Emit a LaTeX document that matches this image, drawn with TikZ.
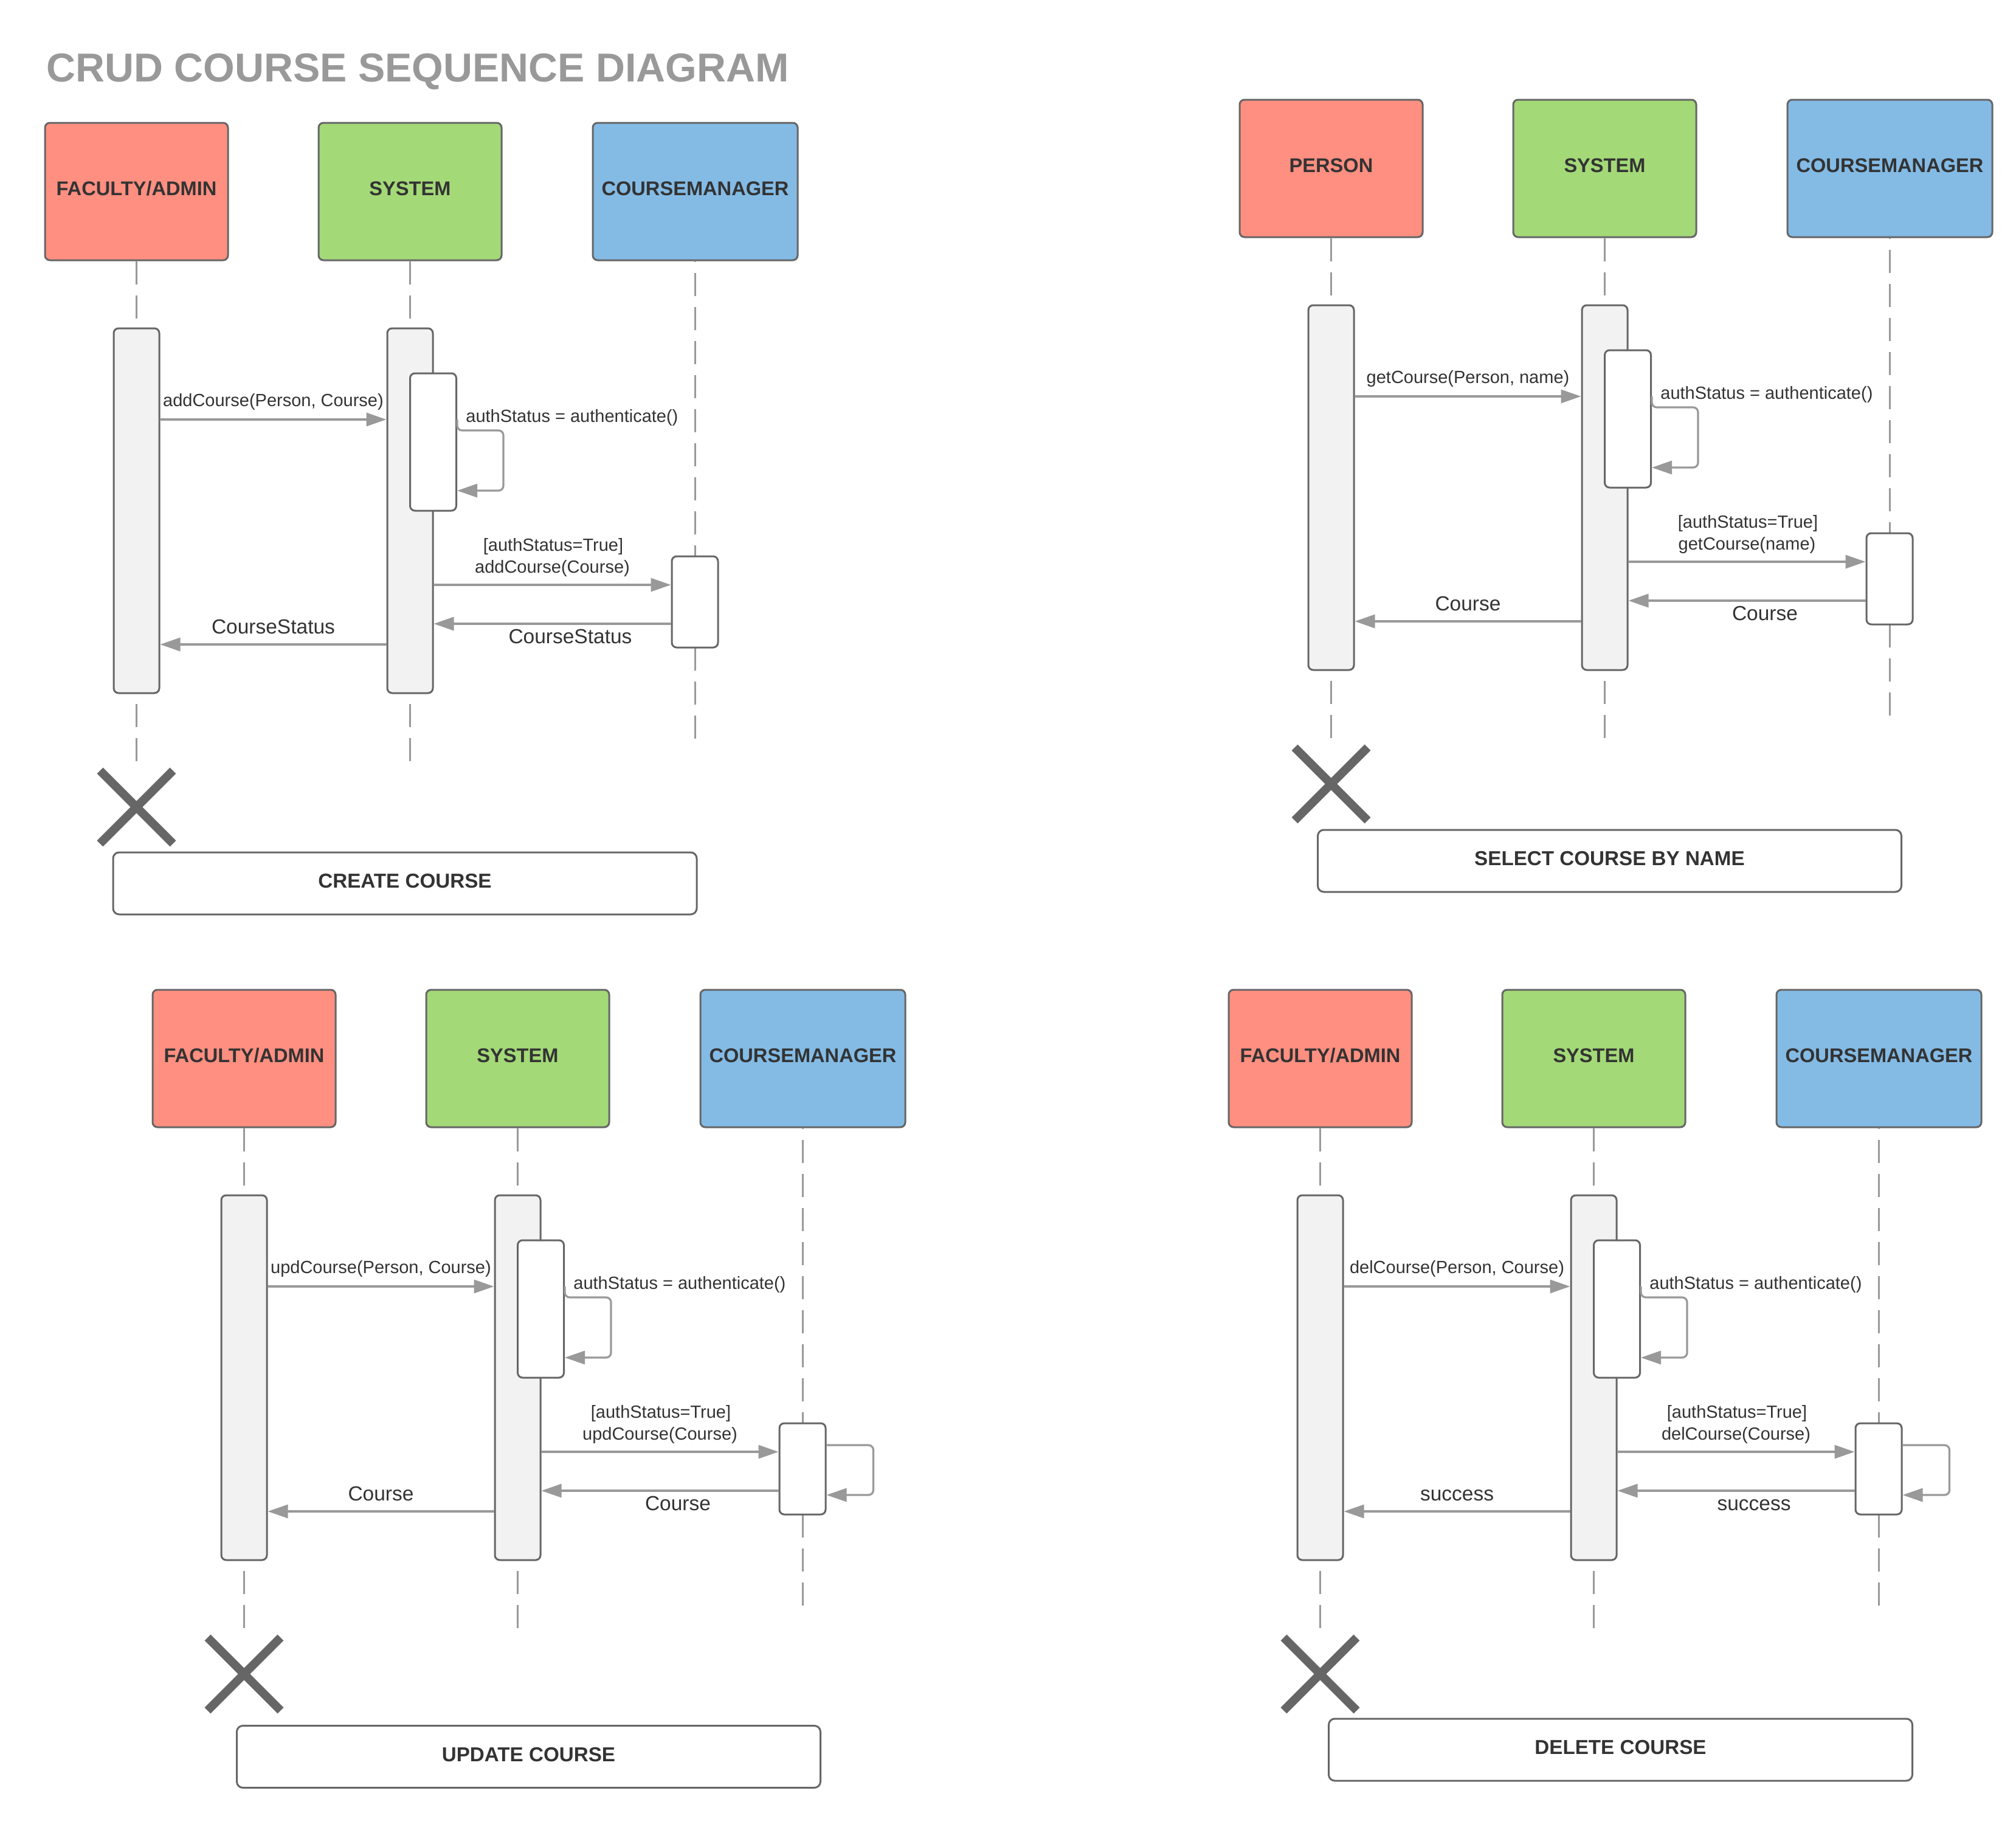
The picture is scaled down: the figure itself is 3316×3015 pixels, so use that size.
\documentclass[tikz,border=0pt]{standalone}
\usepackage{fontspec}
\setmainfont{Liberation Sans}
\usetikzlibrary{arrows.meta,shapes.misc,calc}
\definecolor{cRed}{HTML}{FF8F80}
\definecolor{cGreen}{HTML}{A3D977}
\definecolor{cBlue}{HTML}{83BBE5}
\definecolor{cBorder}{HTML}{666666}
\definecolor{cBar}{HTML}{F2F2F2}
\definecolor{cLine}{HTML}{999999}
\definecolor{cText}{HTML}{333333}
\definecolor{cTitle}{HTML}{999999}
\tikzset{
  actor/.style={draw=cBorder, line width=1.5pt, rounded corners=4pt, inner sep=0pt,
    minimum width=150.5pt, minimum height=113pt, text=cText,
    font=\fontsize{16.3pt}{19pt}\selectfont\bfseries, text height=11.7pt, text depth=5pt},
  bar/.style={draw=cBorder, line width=1.5pt, fill=cBar, rounded corners=4pt,
    minimum width=37.5pt, minimum height=300pt, inner sep=0pt},
  actbox/.style={draw=cBorder, line width=1.5pt, fill=white, rounded corners=4pt,
    minimum width=38pt, inner sep=0pt},
  lifeline/.style={draw=cLine, line width=1.6pt, dash pattern=on 19pt off 9pt},
  msg/.style={draw=cLine, line width=1.6pt, -{Triangle[length=16.5pt,width=11pt]}},
  msglbl/.style={anchor=base, inner sep=0pt, text=cText, font=\fontsize{14.5pt}{17pt}\selectfont},
  retlbl/.style={anchor=base, inner sep=0pt, text=cText, font=\fontsize{16.75pt}{19pt}\selectfont},
  xmark/.style={cross out, draw=cBorder, line width=7pt, minimum size=60pt, inner sep=0pt, outer sep=0pt},
  caption/.style={draw=cBorder, line width=1.5pt, fill=white, rounded corners=5pt, inner sep=0pt,
    minimum width=480pt, minimum height=51pt, text=cText,
    font=\fontsize{16.6pt}{19pt}\selectfont\bfseries, text height=11.9pt, text depth=4pt}
}
% #1 prefix, #2 dx, #3 dy, #4 first actor, #5 first message, #6 call to manager, #7 return text, #8 self loop at manager
\newcommand\seqpanel[8]{%
\begin{scope}[shift={(#2,#3)}, name prefix=#1-]
  \coordinate (ym1) at (0,690);
  \coordinate (ym2) at (0,962);
  \coordinate (yr1) at (0,1026);
  \coordinate (yr2) at (0,1060);
  \coordinate (yl1) at (0,807);
  \coordinate (yc1) at (0,951);
  \coordinate (yc2) at (0,1033);
  \coordinate (yendA) at (0,1253);
  \coordinate (yendC) at (0,1215);
  \node[actor, fill=cRed] (A) at (224.5,315) {#4};
  \node[actor, fill=cGreen] (S) at (674.5,315) {SYSTEM};
  \node[actor, fill=cBlue, minimum width=168.5pt] (C) at (1143.5,315) {COURSEMANAGER};
  \draw[lifeline] (A.south) -- (A.south |- yendA);
  \draw[lifeline] (S.south) -- (S.south |- yendA);
  \draw[lifeline] (C.south |- yendC) -- (C.south);
  \node[bar] (barA) at (224.5,840) {};
  \node[bar] (barS) at (674.5,840) {};
  \node[actbox, minimum height=113pt] (auth) at (712.5,727) {};
  \node[actbox, minimum height=75pt] (cm) at (1143,990) {};
  \draw[msg] (barA.east |- ym1) -- node[msglbl, yshift=11pt] (m1lbl) {#5} (barS.west |- ym1);
  \draw[msg, rounded corners=4pt] (auth.east |- ym1) -- ++(0,18) -- ++(76,0) |- (auth.east |- yl1);
  \node[msglbl, anchor=base west] (authlbl) at (766,694) {authStatus = authenticate()};
  \draw[msg] (barS.east |- ym2) -- node[msglbl, yshift=10pt] (m2lbl) {#6}
     node[msglbl, yshift=28pt, xshift=0.75pt] (guardlbl) {[authStatus=True]} (cm.west |- ym2);
  \draw[msg] (cm.west |- yr1) -- node[retlbl, yshift=-16pt, xshift=14.75pt] (r1lbl) {#7} (barS.east |- yr1);
  \draw[msg] (barS.west |- yr2) -- node[retlbl, yshift=9pt] (r2lbl) {#7} (barA.east |- yr2);
  \ifnum#8=1
  \draw[msg, rounded corners=4pt] (cm.east |- yc1) -- ++(77,0) |- (cm.east |- yc2);
  \fi
  \node[xmark] (X) at (224.5,1327.5) {};
\end{scope}}

\begin{document}
\begin{tikzpicture}[x=0.5pt, y=-0.5pt]
  \fill[white] (0,0) rectangle (3316,3015);
  \useasboundingbox (0,0) rectangle (3316,3015);
  \node[anchor=base west, inner sep=0pt, text=cTitle, font=\fontsize{33.2pt}{40pt}\selectfont\bfseries] (title) at (76,134) {CRUD COURSE SEQUENCE DIAGRAM};

  \seqpanel{p1}{0}{0}{FACULTY/ADMIN}{addCourse(Person, Course)}{addCourse(Course)}{CourseStatus}{0}
  \seqpanel{p2}{1965}{-38}{PERSON}{getCourse(Person, name)}{getCourse(name)}{Course}{0}
  \seqpanel{p3}{177}{1426}{FACULTY/ADMIN}{updCourse(Person, Course)}{updCourse(Course)}{Course}{1}
  \seqpanel{p4}{1947}{1426}{FACULTY/ADMIN}{delCourse(Person, Course)}{delCourse(Course)}{success}{1}

  \node[caption] (cap1) at (666,1453) {CREATE COURSE};
  \node[caption] (cap2) at (2647.5,1416) {SELECT COURSE BY NAME};
  \node[caption] (cap3) at (869.5,2889.5) {UPDATE COURSE};
  \node[caption] (cap4) at (2665.5,2878) {DELETE COURSE};
\end{tikzpicture}
\end{document}
